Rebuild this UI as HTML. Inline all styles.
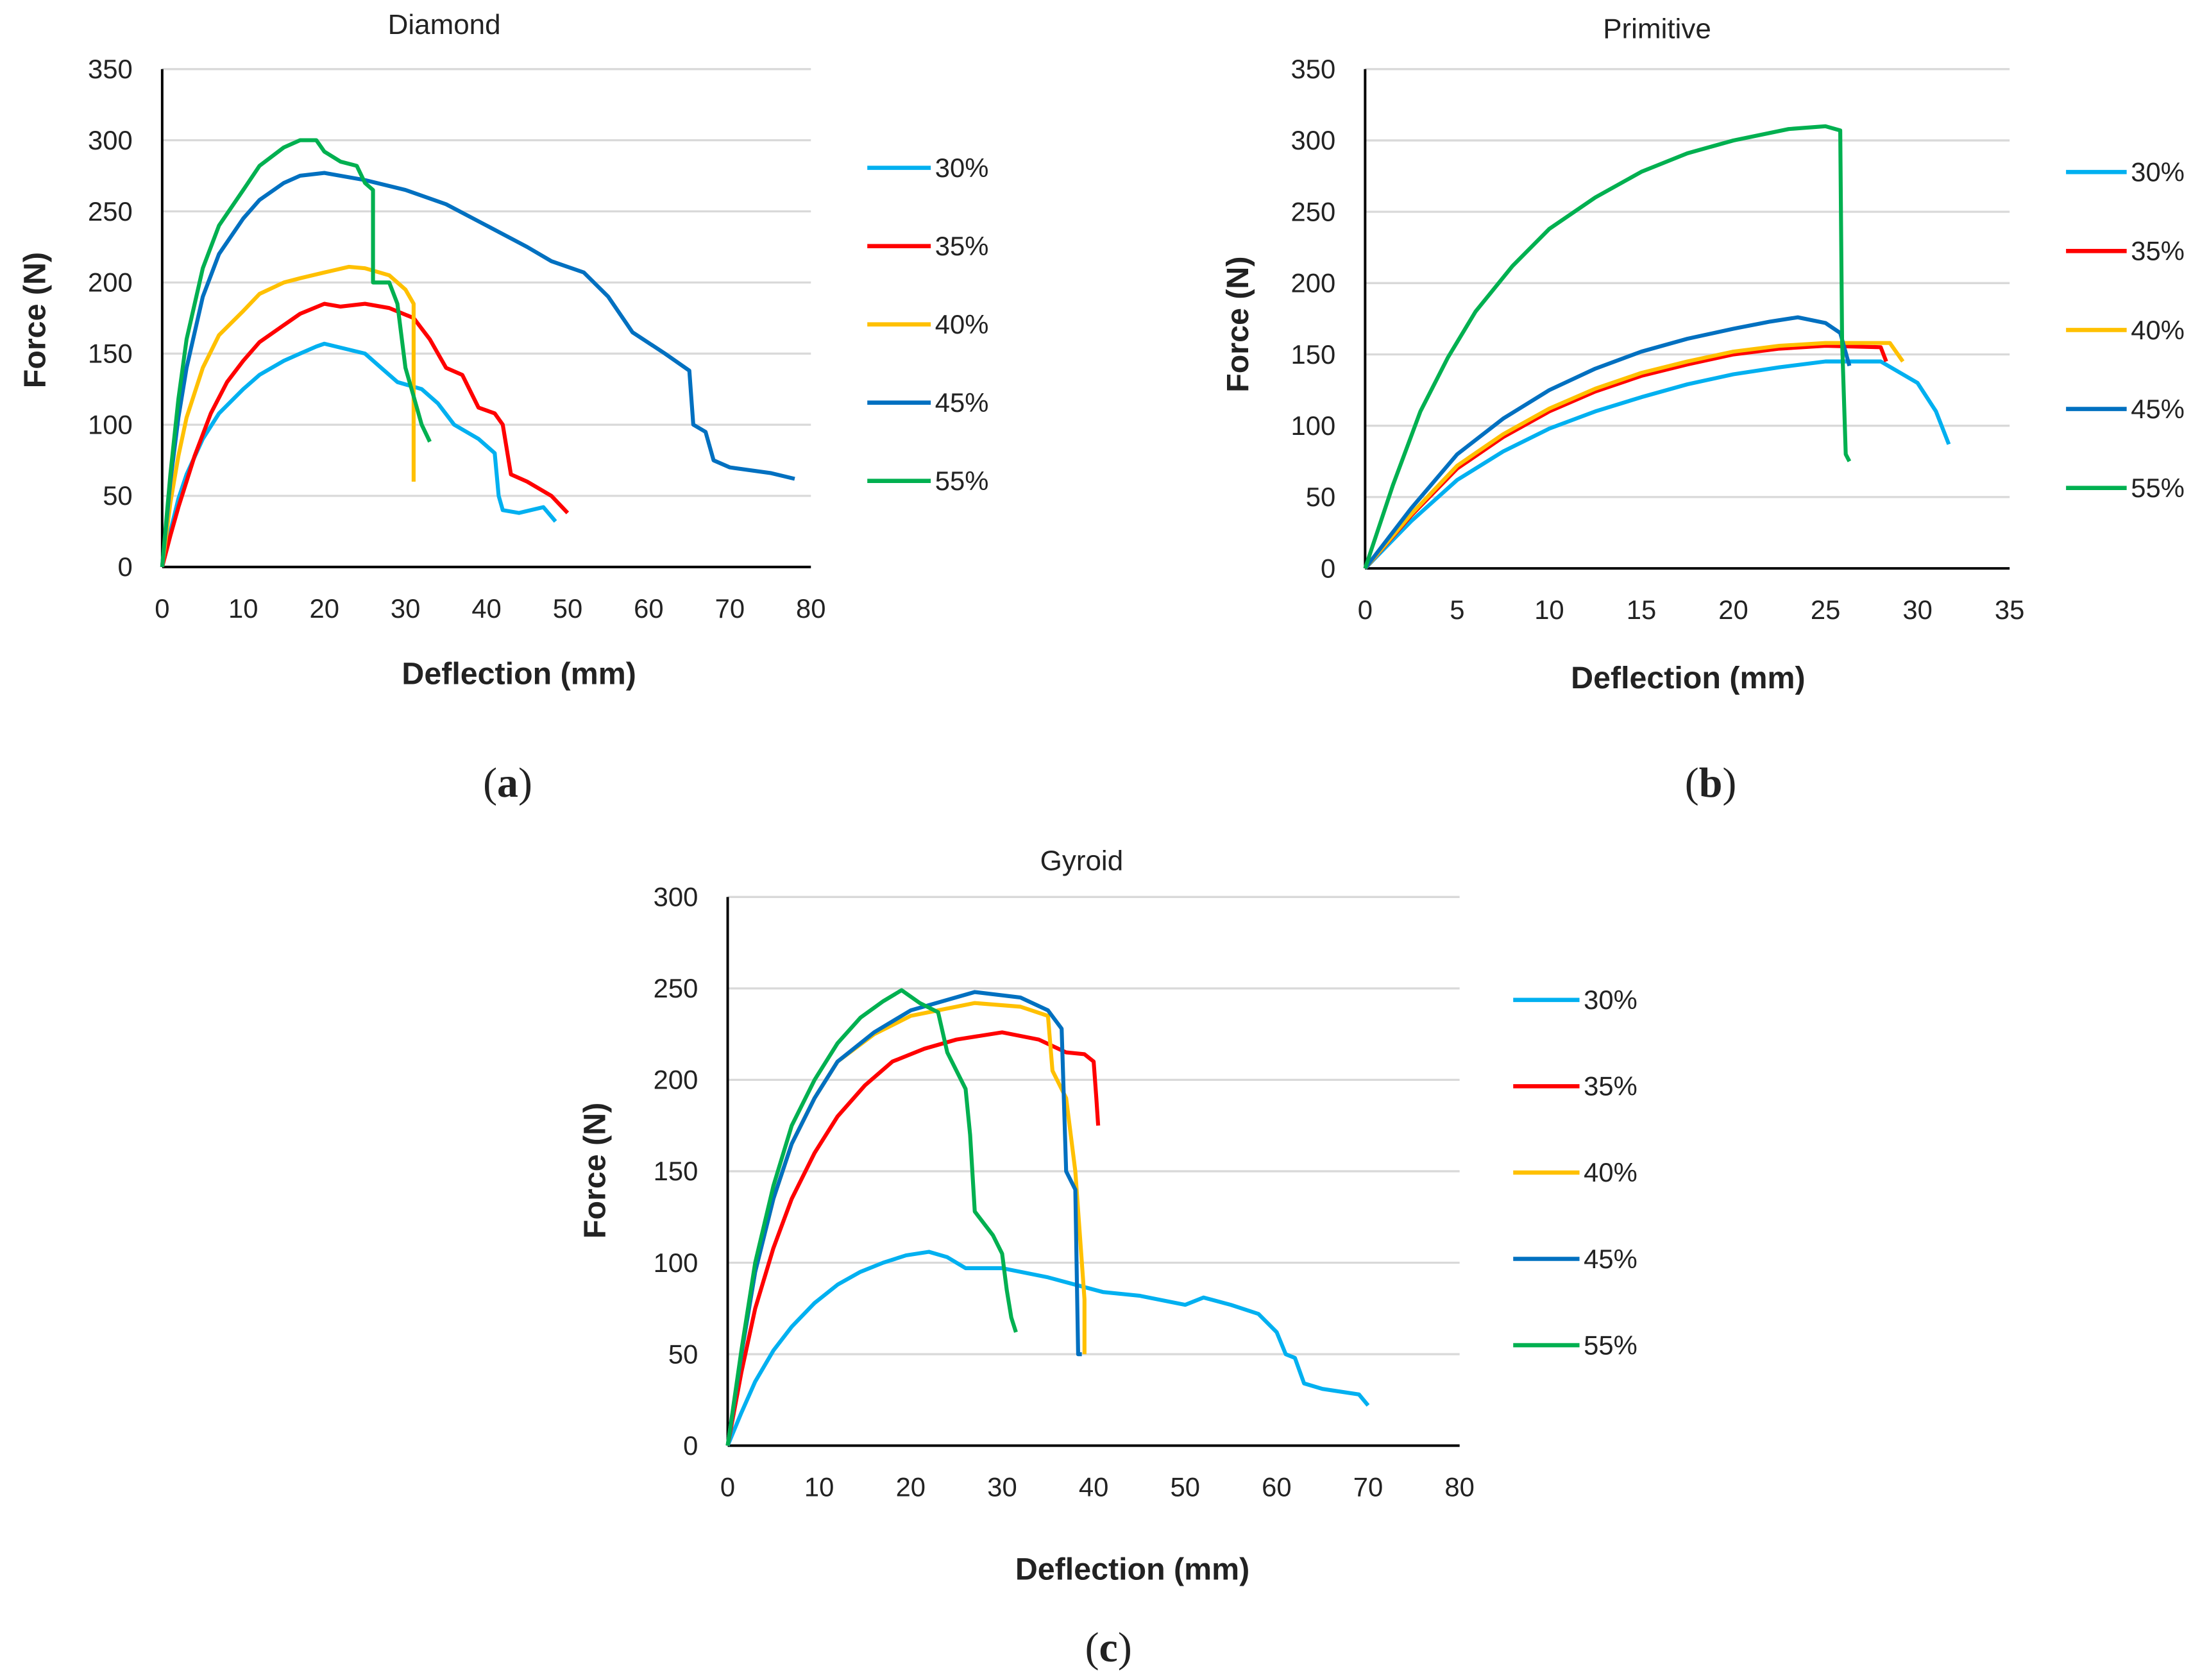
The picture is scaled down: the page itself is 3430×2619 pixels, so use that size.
<!DOCTYPE html>
<html><head><meta charset="utf-8">
<style>
html,body{margin:0;padding:0;background:#fff;}
svg{display:block;}
text{font-family:"Liberation Sans",sans-serif;fill:#222;}
</style></head>
<body>
<svg id="fig" width="3430" height="2619" viewBox="0 0 1560 1191.2" preserveAspectRatio="none" xmlns="http://www.w3.org/2000/svg"></svg>
<script>
const seriesNames = ["30%","35%","40%","45%","55%"];
const colors = ["#00B0F0","#FF0000","#FFC000","#0070C0","#00B050"];

const diamond30 = [[0,0],[1,25],[2,48],[3,65],[5,90],[7,108],[10,125],[12,135],[15,145],[17,150],[19,155],[20,157],[25,150],[27,140],[29,130],[32,125],[34,115],[36,100],[39,90],[41,80],[41.5,50],[42,40],[44,38],[47,42],[48.5,32]];
const diamond35 = [[0,0],[1,22],[2,42],[4,78],[6,108],[8,130],[10,145],[12,158],[15,170],[17,178],[20,185],[22,183],[25,185],[28,182],[31,175],[33,160],[35,140],[37,135],[39,112],[41,108],[42,100],[43,65],[45,60],[48,50],[50,38]];
const diamond40 = [[0,0],[1,45],[2,78],[3,105],[5,140],[7,163],[10,180],[12,192],[15,200],[17,203],[20,207],[23,211],[25,210],[28,205],[30,195],[31,185],[31,60]];
const diamond45 = [[0,0],[1,60],[2,105],[3,140],[5,190],[7,220],[10,245],[12,258],[15,270],[17,275],[20,277],[25,272],[30,265],[35,255],[40,240],[45,225],[48,215],[52,207],[55,190],[58,165],[62,150],[65,138],[65.5,100],[67,95],[68,75],[70,70],[75,66],[78,62]];
const diamond55 = [[0,0],[1,65],[2,118],[3,160],[5,210],[7,240],[10,265],[12,282],[15,295],[17,300],[19,300],[20,292],[22,285],[24,282],[25,270],[26,265],[26,200],[28,200],[29,185],[30,140],[31,120],[32,100],[33,88]];

const primitive30 = [[0,0],[2.5,33],[5,62],[7.5,82],[10,98],[12.5,110],[15,120],[17.5,129],[20,136],[22.5,141],[25,145],[28,145],[30,130],[31,110],[31.7,87]];
const primitive35 = [[0,0],[2.5,37],[5,70],[7.5,92],[10,110],[12.5,124],[15,135],[17.5,143],[20,150],[22.5,154],[25,156],[28,155],[28.3,145]];
const primitive40 = [[0,0],[2.5,38],[5,72],[7.5,94],[10,112],[12.5,126],[15,137],[17.5,145],[20,152],[22.5,156],[25,158],[28.5,158],[29.2,145]];
const primitive45 = [[0,0],[2.5,42],[5,80],[7.5,105],[10,125],[12.5,140],[15,152],[17.5,161],[20,168],[22,173],[23.5,176],[25,172],[25.8,165],[26.3,142]];
const primitive55 = [[0,0],[1.5,58],[3,110],[4.5,148],[6,180],[8,212],[10,238],[12.5,260],[15,278],[17.5,291],[20,300],[23,308],[25,310],[25.8,307],[25.9,160],[26.1,80],[26.3,75]];

const gyroid30 = [[0,0],[1.5,18],[3,35],[5,52],[7,65],[9.5,78],[12,88],[14.5,95],[17,100],[19.5,104],[22,106],[24,103],[26,97],[30,97],[35,92],[38,88],[41,84],[45,82],[50,77],[52,81],[55,77],[58,72],[60,62],[61,50],[62,48],[63,34],[65,31],[69,28],[70,22]];
const gyroid35 = [[0,0],[1.5,40],[3,75],[5,108],[7,135],[9.5,160],[12,180],[15,197],[18,210],[21.5,217],[25,222],[30,226],[34,222],[37,215],[39,214],[40,210],[40.3,190],[40.5,175]];
const gyroid40 = [[0,0],[1.5,50],[3,95],[5,135],[7,165],[9.5,190],[12,210],[16,225],[20,235],[27,242],[32,240],[35,235],[35.5,205],[37,190],[38,150],[39,80],[39,50]];
const gyroid45 = [[0,0],[1.5,50],[3,95],[5,135],[7,165],[9.5,190],[12,210],[16,226],[20,238],[27,248],[32,245],[35,238],[36.5,228],[37,150],[38,140],[38.3,50],[38.7,50]];
const gyroid55 = [[0,0],[1.5,52],[3,100],[5,142],[7,175],[9.5,200],[12,220],[14.5,234],[17,243],[19,249],[21,242],[23,237],[24,215],[26,195],[26.5,170],[27,128],[29,115],[30,105],[30.5,85],[31,70],[31.5,62]];

const diamondXTicks = [0,10,20,30,40,50,60,70,80];
const diamondYTicks = [0,50,100,150,200,250,300,350];
const primitiveXTicks = [0,5,10,15,20,25,30,35];
const primitiveYTicks = [0,50,100,150,200,250,300,350];
const gyroidXTicks = [0,10,20,30,40,50,60,70,80];
const gyroidYTicks = [0,50,100,150,200,250,300];

const NS = "http://www.w3.org/2000/svg";
const svg = document.getElementById("fig");
function mk(tag, attrs, parent){
  const e = document.createElementNS(NS, tag);
  for (const k in attrs) e.setAttribute(k, attrs[k]);
  (parent||svg).appendChild(e);
  return e;
}

function chart(cfg){
  const g = mk("g", {});
  
  
  const xMax = cfg.xTicks[cfg.xTicks.length-1], yMax = cfg.yTicks[cfg.yTicks.length-1];
  const sx = v => cfg.x0 + (cfg.x1 - cfg.x0) * v / xMax;
  const sy = v => cfg.y0 - (cfg.y0 - cfg.y1) * v / yMax;
  cfg.yTicks.forEach(t => {
    if (t > 0) {
      const gl = mk("line", {x1:cfg.x0, x2:cfg.x1, y1:sy(t), y2:sy(t), stroke:"#d9d9d9", "stroke-width":1.5}, g);
      
      
    }
    const tl = mk("text", {x:cfg.x0-21, y:sy(t)+6.5, "text-anchor":"end", "font-size":19}, g);
    
    
    tl.textContent = t;
  });
  cfg.xTicks.forEach(t => {
    const tl = mk("text", {x:sx(t), y:cfg.y0+36, "text-anchor":"middle", "font-size":19}, g);
    
    
    tl.textContent = t;
  });
  const ya = mk("line", {x1:cfg.x0, x2:cfg.x0, y1:cfg.y1, y2:cfg.y0, stroke:"#000", "stroke-width":1.8}, g);
  
  
  const xa = mk("line", {x1:cfg.x0, x2:cfg.x1, y1:cfg.y0, y2:cfg.y0, stroke:"#000", "stroke-width":1.8}, g);
  
  
  cfg.series.forEach((data, i) => {
    const p = mk("polyline", {points:data.map(d => sx(d[0]).toFixed(1)+","+sy(d[1]).toFixed(1)).join(" "), fill:"none", stroke:colors[i], "stroke-width":2.8, "stroke-linejoin":"round"}, g);
    
    
    const ly = cfg.legY0 + i*cfg.legDy;
    const ll = mk("line", {x1:cfg.legX, x2:cfg.legX+cfg.legW, y1:ly, y2:ly, stroke:colors[i], "stroke-width":3}, g);
    
    
    const lt = mk("text", {x:cfg.legX+cfg.legW+3, y:ly+6.5, "font-size":19}, g);
    
    
    lt.textContent = seriesNames[i];
  });
  const tt = mk("text", {x:cfg.titleX, y:cfg.titleY, "text-anchor":"middle", "font-size":20}, g);
  
  
  tt.textContent = cfg.title;
  const xt = mk("text", {x:cfg.xtX, y:cfg.xtY, "text-anchor":"middle", "font-size":22, "font-weight":"bold"}, g);
  
  
  xt.textContent = "Deflection (mm)";
  const yt = mk("text", {x:0, y:0, "text-anchor":"middle", "font-size":22, "font-weight":"bold", transform:"translate("+cfg.ytX+","+cfg.ytY+") rotate(-90)"}, g);
  
  
  yt.textContent = "Force (N)";
  const cap = mk("text", {x:cfg.capX, y:cfg.capY, "text-anchor":"middle", "font-size":30, style:"font-family:'Liberation Serif',serif"}, g);
  
  
  cap.innerHTML = "(<tspan font-weight='bold'>" + cfg.cap + "</tspan>)";
}

chart({id:"diamond", title:"Diamond", x0:115, x1:575, y0:402, y1:49, xTicks:diamondXTicks, yTicks:diamondYTicks,
  series:[diamond30,diamond35,diamond40,diamond45,diamond55], legX:615, legW:45, legY0:119, legDy:55.5,
  titleX:315, titleY:24, xtX:368, xtY:485, ytX:32, ytY:227, capX:360, capY:565, cap:"a"});
chart({id:"primitive", title:"Primitive", x0:968, x1:1425, y0:403, y1:49, xTicks:primitiveXTicks, yTicks:primitiveYTicks,
  series:[primitive30,primitive35,primitive40,primitive45,primitive55], legX:1465, legW:43, legY0:122, legDy:56,
  titleX:1175, titleY:27, xtX:1197, xtY:488, ytX:885, ytY:230, capX:1213, capY:565, cap:"b"});
chart({id:"gyroid", title:"Gyroid", x0:516, x1:1035, y0:1025, y1:636, xTicks:gyroidXTicks, yTicks:gyroidYTicks,
  series:[gyroid30,gyroid35,gyroid40,gyroid45,gyroid55], legX:1073, legW:47, legY0:709, legDy:61.2,
  titleX:767, titleY:617, xtX:803, xtY:1120, ytX:429, ytY:830, capX:786, capY:1178, cap:"c"});
</script>
</body></html>
